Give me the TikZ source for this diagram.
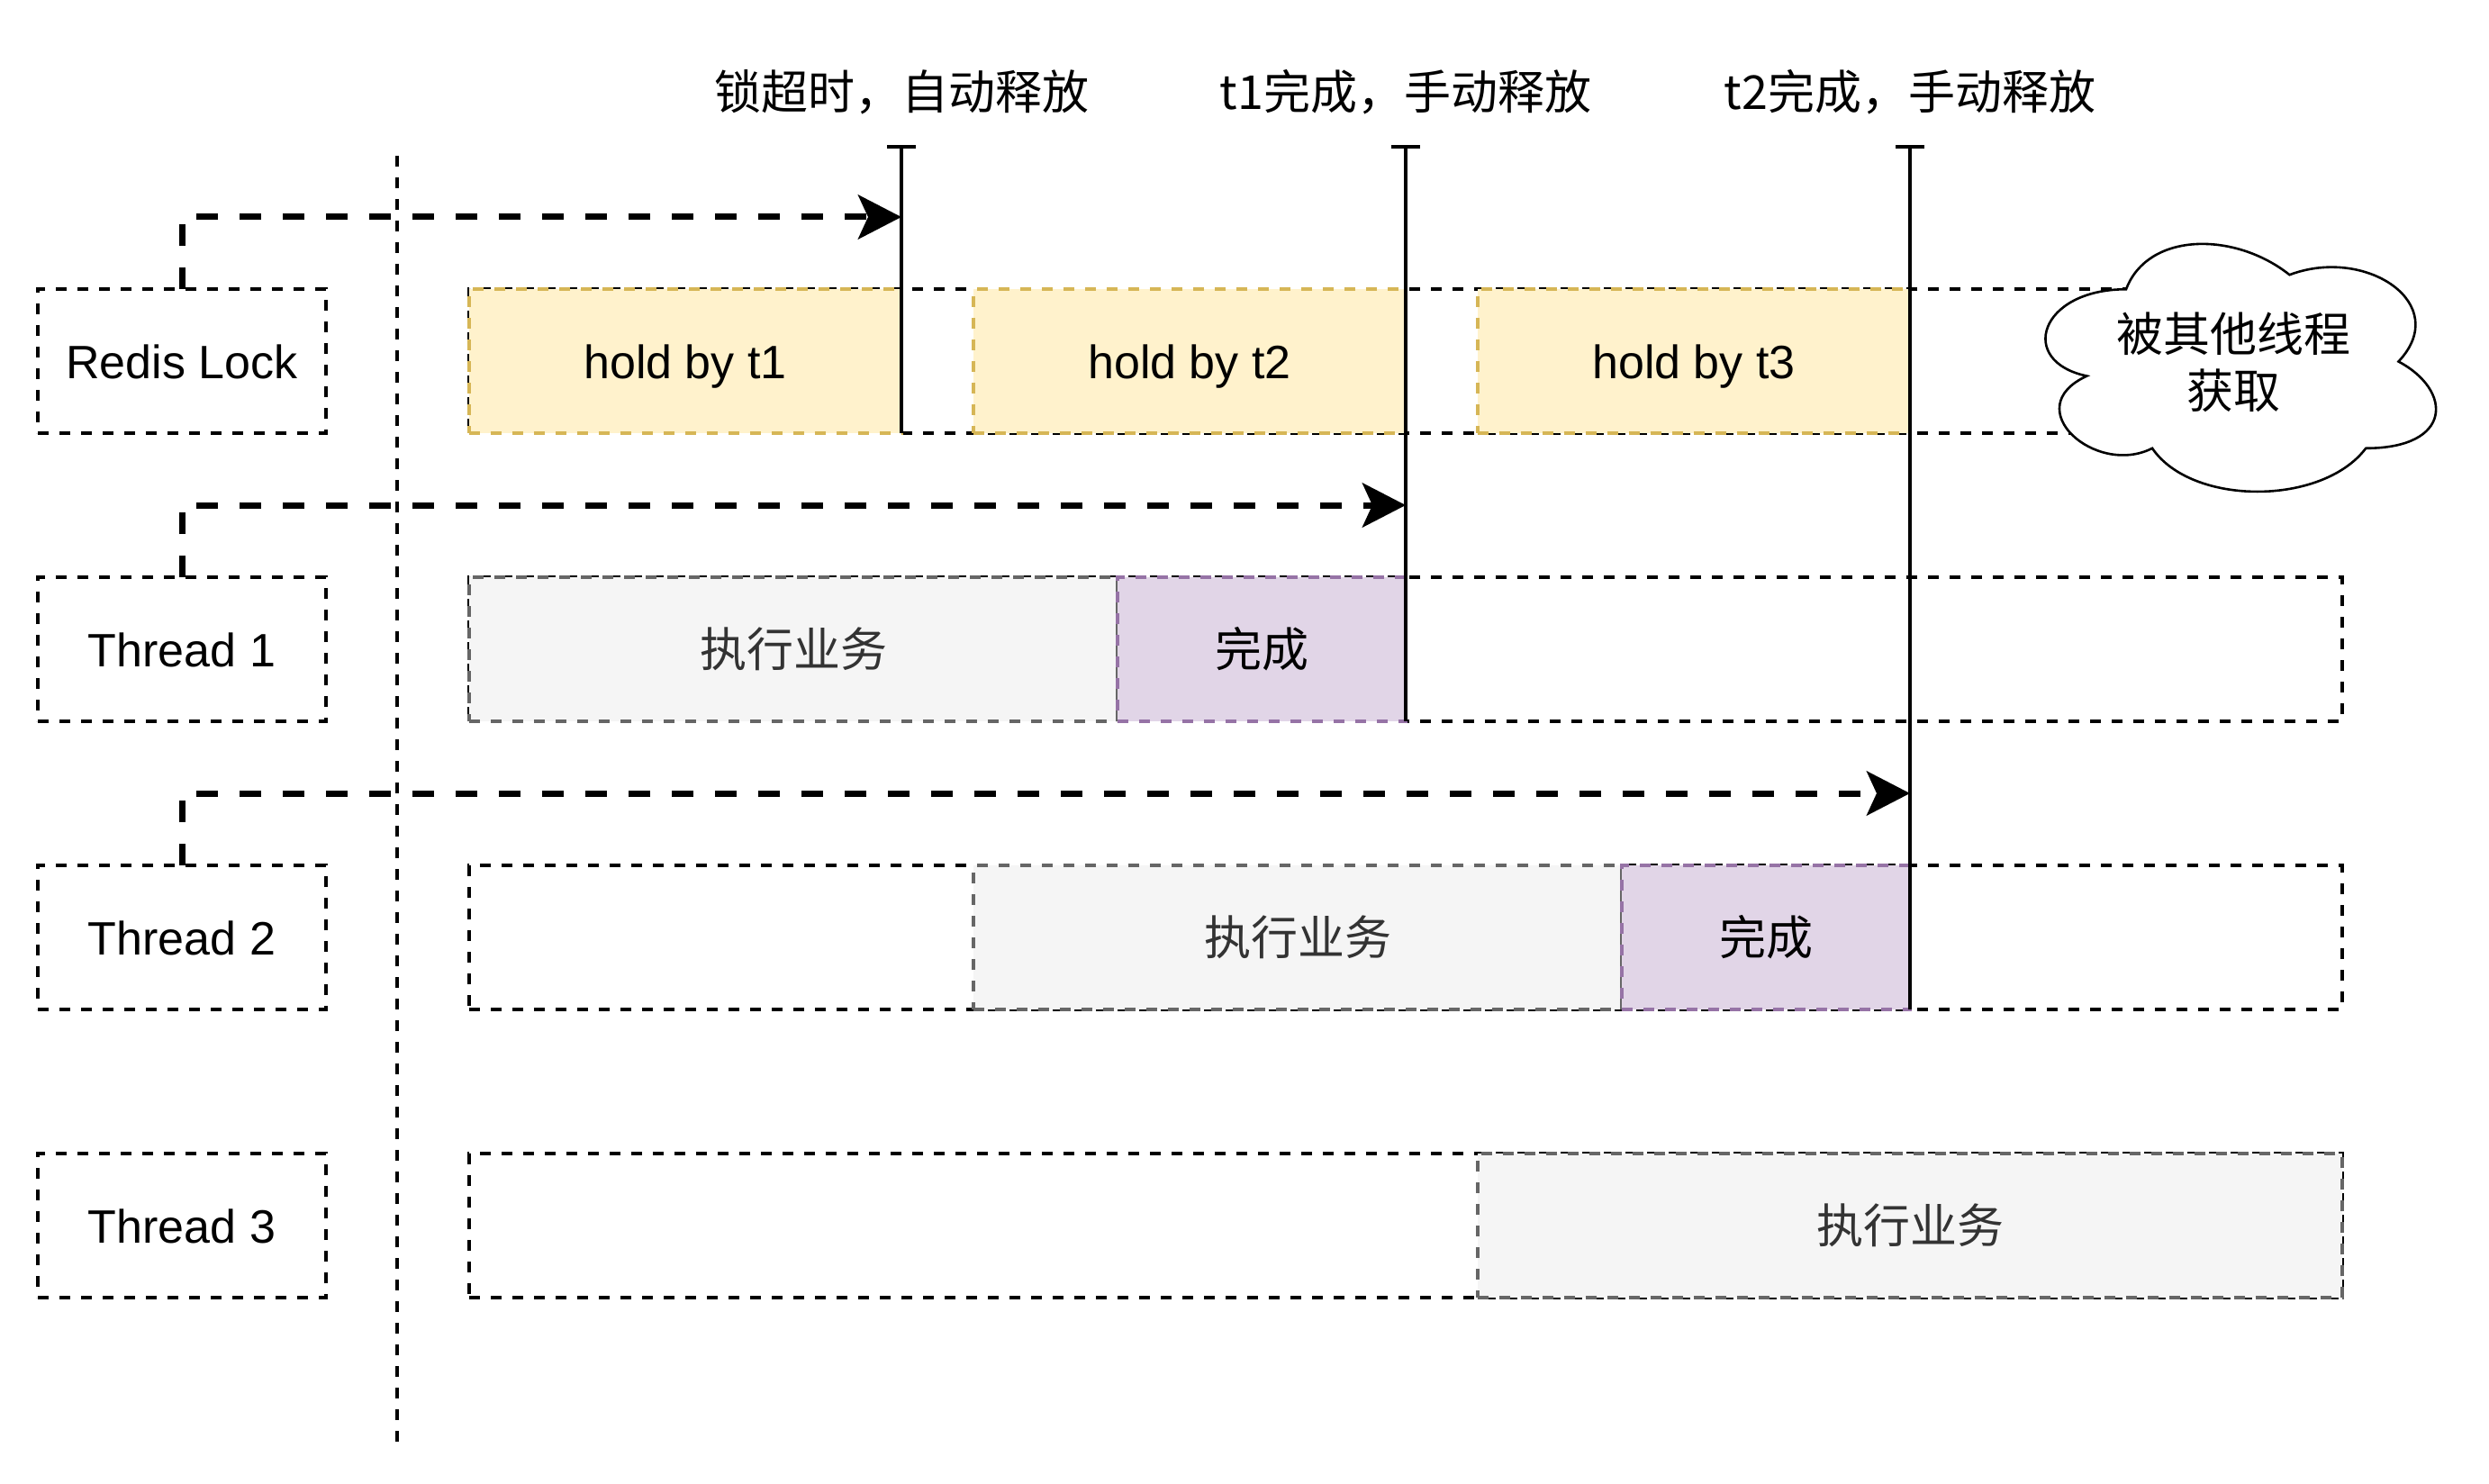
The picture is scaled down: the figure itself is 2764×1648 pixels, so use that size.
\documentclass[tikz,border=0pt]{standalone}
\usepackage{fontspec}
\setmainfont{Liberation Sans}
\newfontfamily\cjk{Noto Sans CJK SC}
\usetikzlibrary{positioning,arrows.meta}
\definecolor{holdfill}{HTML}{FFF2CC}
\definecolor{holdline}{HTML}{D6B656}
\definecolor{workfill}{HTML}{F5F5F5}
\definecolor{workline}{HTML}{666666}
\definecolor{worktext}{HTML}{333333}
\definecolor{donefill}{HTML}{E1D5E7}
\definecolor{doneline}{HTML}{9673A6}
\newcommand\lanefont{\fontsize{26}{31.5}\selectfont}
\tikzset{every picture/.style={line width=1.6pt}}

\begin{document}
\begin{tikzpicture}[x=0.5pt, y=-0.5pt, node distance=80pt,
  box/.style={draw, dash pattern=on 6pt off 6pt, minimum height=80pt, outer sep=0pt, inner sep=0pt,
    text height=19pt, text depth=0pt, font=\lanefont},
  rowbox/.style={box, minimum width=160pt},
  lane/.style={box, minimum width=1040pt},
  hold/.style={box, draw=holdline, fill=holdfill, minimum width=240pt},
  work/.style={box, draw=workline, fill=workfill, text=worktext, font=\lanefont\cjk},
  done/.style={box, draw=doneline, fill=donefill, minimum width=160pt, font=\lanefont\cjk},
  flow/.style={line width=3.5pt, dash pattern=on 12pt off 12pt, -{Stealth[length=24pt, width=24.5pt, inset=5.5pt]}},
  tick/.style={line width=2pt, -{Bar[width=16pt]}},
  note/.style={font=\lanefont\cjk, inner sep=0pt, align=center},
  sep/.style={line width=2pt, dash pattern=on 6pt off 6pt},
  cloudline/.style={draw, fill=white, line width=1.3pt}]
  \useasboundingbox (0,0) rectangle (2764,1648);

  % time axis separator
  \coordinate (septop) at (441,173);
  \coordinate (sepbot) at (441,1602);
  \draw[sep] (septop) -- (sepbot);

  % rows
  \node[rowbox] (lock) at (202,401) {Redis Lock};
  \node[rowbox, below=of lock] (th1) {Thread 1};
  \node[rowbox, below=of th1] (th2) {Thread 2};
  \node[rowbox, below=of th2] (th3) {Thread 3};
  \foreach \r in {lock,th1,th2,th3}{
    \node[lane, right=79.5pt of \r] (ln\r) {};
  }

  % lock holders
  \node[hold, anchor=west] (h1) at (lnlock.west) {hold by t1};
  \node[hold, right=40pt of h1] (h2) {hold by t2};
  \node[hold, right=40pt of h2] (h3) {hold by t3};

  % threads
  \node[work, minimum width=360pt, anchor=west] (w1) at (lnth1.west) {执行业务};
  \node[done, right=0pt of w1] (d1) {完成};
  \node[work, minimum width=360pt, anchor=west] (w2) at (h2.west |- lnth2.west) {执行业务};
  \node[done, right=0pt of w2] (d2) {完成};
  \node[work, minimum width=480pt, anchor=west] (w3) at (h3.west |- lnth3.west) {执行业务};

  % other thread takes the lock
  \begin{scope}[shift={(2240,241)}, x=242pt, y=-160.5pt]
    \draw[cloudline] (0.25,0.25) .. controls (0.05,0.25) and (0,0.5) .. (0.16,0.55)
      .. controls (0,0.66) and (0.18,0.9) .. (0.31,0.8)
      .. controls (0.4,1) and (0.7,1) .. (0.8,0.8)
      .. controls (1,0.8) and (1,0.6) .. (0.875,0.5)
      .. controls (1,0.3) and (0.8,0.1) .. (0.625,0.2)
      .. controls (0.5,0.05) and (0.3,0.05) .. (0.25,0.25) -- cycle;
  \end{scope}
  \node[note] (taken) at (2480,402) {被其他线程\\获取};

  % release points
  \coordinate (tickrow) at (0,161);
  \coordinate (noterow) at (0,102);
  \foreach \b/\t in {h1/锁超时，自动释放, d1/t1完成，手动释放, d2/t2完成，手动释放}{
    \draw[tick] (\b.south east) -- (\b.east |- tickrow);
    \node[note] (n\b) at (\b.east |- noterow) {\t};
  }

  % lock requests
  \foreach \r/\b in {lock/h1, th1/d1, th2/d2}{
    \draw[flow] (\r.north) |- ([yshift=40pt]\b.north east);
  }
\end{tikzpicture}
\end{document}
